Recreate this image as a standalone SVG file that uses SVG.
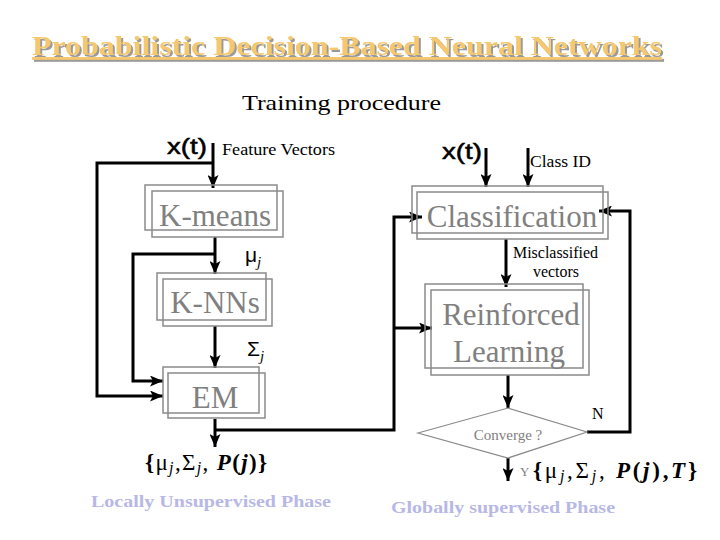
<svg xmlns="http://www.w3.org/2000/svg" width="720" height="540" viewBox="0 0 720 540">
<defs>
<marker id="arr" viewBox="0 0 13 11" refX="13" refY="5.5" markerWidth="13" markerHeight="11" markerUnits="userSpaceOnUse" orient="auto">
<path d="M0,0 L13,5.5 L0,11 L3,5.5 z" fill="#000"/>
</marker>
<filter id="shadow" x="-5%" y="-20%" width="110%" height="150%">
<feFlood flood-color="#9a9a9a"/>
<feComposite in2="SourceAlpha" operator="in"/>
<feOffset dx="2" dy="2" result="sh"/>
<feMerge><feMergeNode in="sh"/><feMergeNode in="SourceGraphic"/></feMerge>
</filter>
<style>
.serif{font-family:"Liberation Serif","Times New Roman",Times,"DejaVu Serif",serif}
.sans{font-family:"Liberation Sans",Arial,Helvetica,sans-serif}
.box{fill:none;stroke:#8a8a8a;stroke-width:1.5}
.lbl{font-size:31px;fill:#808080;text-anchor:middle}
.ca{fill:none;stroke:#000;stroke-width:3;marker-end:url(#arr)}
.sm{font-size:16px;fill:#000}
.xt{font-size:22px;fill:#000;stroke:#000;stroke-width:0.5}
.math{font-size:23px;fill:#000}
.phase{font-weight:bold;font-size:17px;fill:#b8b8e6}
</style>
</defs>
<rect width="720" height="540" fill="#fff"/>

<g id="title" class="serif" filter="url(#shadow)">
<text x="32" y="55" font-weight="bold" font-size="28" fill="#f5c86e" text-decoration="underline" textLength="630" lengthAdjust="spacingAndGlyphs">Probabilistic Decision-Based Neural Networks</text>
</g>
<g id="subtitle" class="serif">
<text x="242" y="110" font-size="22" fill="#000" textLength="199" lengthAdjust="spacingAndGlyphs">Training procedure</text>
</g>

<g id="connectors">
<path class="ca" d="M213,143 V188"/>
<path class="ca" d="M213,163 H97 V396 H163"/>
<path class="ca" d="M215,237 V274"/>
<path class="ca" d="M215,254 H133 V381 H163"/>
<path class="ca" d="M215,326 V368"/>
<path class="ca" d="M215,419 V447"/>
<path class="ca" d="M215,430 H394 V217 H422"/>
<path class="ca" d="M394,328 H432"/>
<path class="ca" d="M486,148 V187"/>
<path class="ca" d="M528,148 V187"/>
<path class="ca" d="M506,239 V287"/>
<path class="ca" d="M508,375 V408"/>
<path class="ca" d="M508,458 V481"/>
<path class="ca" d="M587,432 H630 V211 H599"/>
</g>

<g id="kmeans">
<rect class="box" x="145" y="185" width="132" height="45"/>
<rect class="box" x="152" y="191" width="131" height="46"/>
<text class="lbl serif" x="215" y="226">K-means</text>
</g>
<g id="knns">
<rect class="box" x="157" y="273" width="109" height="47"/>
<rect class="box" x="163" y="279" width="109" height="47"/>
<text class="lbl serif" x="215" y="313">K-NNs</text>
</g>
<g id="em">
<rect class="box" x="163" y="367" width="96" height="46"/>
<rect class="box" x="168" y="373" width="97" height="45"/>
<text class="lbl serif" x="215" y="408">EM</text>
</g>
<g id="classification">
<rect class="box" x="412" y="186" width="191" height="47"/>
<rect class="box" x="417" y="192" width="191" height="47"/>
<text class="lbl serif" x="512" y="227">Classification</text>
</g>
<g id="reinforced">
<rect class="box" x="425" y="284" width="158" height="84"/>
<rect class="box" x="431" y="290" width="158" height="85"/>
<text class="lbl serif" x="511" y="325">Reinforced</text>
<text class="lbl serif" x="509" y="362">Learning</text>
</g>
<g id="converge">
<polygon points="418,433 508,408 587,432 508,458" fill="#fff" stroke="#8a8a8a" stroke-width="1.2"/>
<text class="serif" x="508" y="440" font-size="15" fill="#808080" text-anchor="middle">Converge ?</text>
</g>

<g id="labels">
<text class="xt sans" x="167" y="154" textLength="40" lengthAdjust="spacingAndGlyphs">x(t)</text>
<text class="sm serif" x="222" y="155" textLength="113" lengthAdjust="spacingAndGlyphs">Feature Vectors</text>
<text class="xt sans" x="442" y="159" textLength="40" lengthAdjust="spacingAndGlyphs">x(t)</text>
<text class="sm serif" x="530" y="167" textLength="61" lengthAdjust="spacingAndGlyphs">Class ID</text>
<text class="sm serif" x="513" y="258" font-size="15" textLength="85" lengthAdjust="spacingAndGlyphs">Misclassified</text>
<text class="sm serif" x="533" y="277" font-size="15" textLength="46" lengthAdjust="spacingAndGlyphs">vectors</text>
<text class="sans" x="245" y="262" font-size="21" fill="#000">μ<tspan class="serif" font-style="italic" font-size="15" dy="5">j</tspan></text>
<text class="sans" x="247" y="356" font-size="21" fill="#000">Σ<tspan class="serif" font-style="italic" font-size="15" dy="5">j</tspan></text>
<text class="sm serif" x="592" y="419">N</text>
<text class="serif" x="520" y="476" font-size="13" fill="#808080">Y</text>
<text class="math serif" x="145" y="470" textLength="122" lengthAdjust="spacing"><tspan font-weight="bold">{</tspan>μ<tspan font-style="italic" font-size="16" dy="3">j</tspan><tspan dy="-3">,</tspan>Σ<tspan font-style="italic" font-size="16" dy="3">j</tspan><tspan dy="-3">, </tspan><tspan font-weight="bold" font-style="italic">P</tspan><tspan font-weight="bold">(</tspan><tspan font-weight="bold" font-style="italic">j</tspan><tspan font-weight="bold">)}</tspan></text>
<text class="math serif" x="533" y="478" textLength="164" lengthAdjust="spacing"><tspan font-weight="bold">{</tspan>μ<tspan font-style="italic" font-size="16" dy="3">j</tspan><tspan dy="-3">,</tspan>Σ<tspan font-style="italic" font-size="16" dy="3">j</tspan><tspan dy="-3">, </tspan><tspan font-weight="bold" font-style="italic">P</tspan><tspan font-weight="bold">(</tspan><tspan font-weight="bold" font-style="italic">j</tspan><tspan font-weight="bold">),</tspan><tspan font-weight="bold" font-style="italic">T</tspan><tspan font-weight="bold">}</tspan></text>
<text class="phase serif" x="91" y="507" textLength="240" lengthAdjust="spacingAndGlyphs">Locally Unsupervised Phase</text>
<text class="phase serif" x="391" y="513" textLength="224" lengthAdjust="spacingAndGlyphs">Globally supervised Phase</text>
</g>
</svg>
